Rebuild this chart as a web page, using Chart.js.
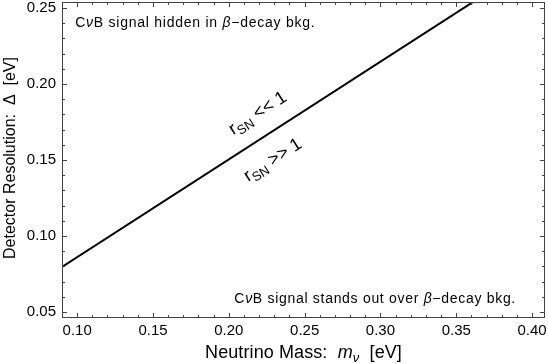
<!DOCTYPE html>
<html><head><meta charset="utf-8">
<script src="https://cdn.jsdelivr.net/npm/chart.js@4/dist/chart.umd.min.js"></script>
<style>html,body{margin:0;padding:0;background:#fff}#w{width:548px;height:364px;position:relative}</style>
</head><body><div id="w"><canvas id="c"></canvas></div>
<script>
// ---- data ----
const neutrinoMass = [0.09, 0.41];          // m_nu [eV]
const detectorResolution = [0.0796, 0.2855]; // Delta [eV] boundary line
const xTickValues = [0.10, 0.15, 0.20, 0.25, 0.30, 0.35, 0.40];
const xTickLabels = ['0.10','0.15','0.20','0.25','0.30','0.35','0.40'];
const yTickValues = [0.05, 0.10, 0.15, 0.20, 0.25];
const yTickLabels = ['0.05','0.10','0.15','0.20','0.25'];

const FONT = '"Liberation Sans", Arial, Helvetica, sans-serif';

function drawRich(ctx, parts, x, y, size, align, rot, baseline, spacing, subDrop) {
  ctx.save();
  ctx.translate(x, y);
  if (rot) ctx.rotate(rot);
  ctx.textBaseline = 'alphabetic';
  ctx.letterSpacing = (spacing || 0) + 'px';
  let total = 0;
  const meas = parts.map(p => {
    const s = p.sub ? size * 0.72 : size;
    ctx.font = (p.italic ? 'italic ' : '') + s + 'px ' + FONT;
    const w = ctx.measureText(p.t).width;
    total += w;
    return {s, w};
  });
  let cx = align === 'center' ? -total / 2 : 0;
  const dy = baseline === 'middle' ? size * 0.36 : 0;
  const sd = subDrop != null ? subDrop : 0.28;
  parts.forEach((p, i) => {
    ctx.font = (p.italic ? 'italic ' : '') + meas[i].s + 'px ' + FONT;
    ctx.fillStyle = '#000';
    ctx.fillText(p.t, cx, dy + (p.sub ? size * sd : 0));
    cx += meas[i].w;
  });
  ctx.restore();
}

const framePlugin = {
  id: 'frame',
  afterDraw(chart) {
    const {ctx, chartArea: a, scales: {x, y}} = chart;
    ctx.save();
    ctx.strokeStyle = '#444';
    ctx.lineWidth = 1;
    ctx.strokeRect(a.left + 0.5, a.top + 0.5, a.right - a.left - 1, a.bottom - a.top - 1);
    ctx.beginPath();
    for (let k = 9; k <= 41; k++) {
      const vv = k / 100;
      const L = (k % 5 === 0) ? 5 : 3;
      const px = Math.round(x.getPixelForValue(vv)) + 0.5;
      if (px < a.left + 1 || px > a.right - 1) continue;
      ctx.moveTo(px, a.bottom); ctx.lineTo(px, a.bottom - L);
      ctx.moveTo(px, a.top); ctx.lineTo(px, a.top + L);
    }
    for (let k = 4; k <= 26; k++) {
      const vv = k / 100;
      const L = (k % 5 === 0) ? 5 : 3;
      const py = Math.round(y.getPixelForValue(vv)) + 0.5;
      if (py < a.top + 1 || py > a.bottom - 1) continue;
      ctx.moveTo(a.left, py); ctx.lineTo(a.left + L, py);
      ctx.moveTo(a.right, py); ctx.lineTo(a.right - L, py);
    }
    ctx.stroke();
    ctx.restore();

    // axis titles
    drawRich(ctx, [{t:'Neutrino Mass:  '},{t:'m',italic:true},{t:'ν',italic:true,sub:true},{t:'  [eV]'}],
      (a.left + a.right) / 2, 358, 18, 'center', 0, null, 0.1, 0.2);
    drawRich(ctx, [{t:'Detector Resolution:  Δ  [eV]'}],
      15, (a.top + a.bottom) / 2 - 2, 16, 'center', -Math.PI / 2);

    // annotations
    drawRich(ctx, [{t:'C'},{t:'ν',italic:true},{t:'B signal hidden in '},{t:'β',italic:true},{t:'−decay bkg.'}],
      x.getPixelForValue(0.0987), y.getPixelForValue(0.2375), 14, 'left', 0, null, 0.75);
    drawRich(ctx, [{t:'C'},{t:'ν',italic:true},{t:'B signal stands out over '},{t:'β',italic:true},{t:'−decay bkg.'}],
      x.getPixelForValue(0.2965), y.getPixelForValue(0.0557), 14, 'center', 0, null, 0.7);
    const ang = Math.atan2(y.getPixelForValue(detectorResolution[1]) - y.getPixelForValue(detectorResolution[0]),
                           x.getPixelForValue(neutrinoMass[1]) - x.getPixelForValue(neutrinoMass[0]));
    drawRich(ctx, [{t:'r'},{t:'SN',sub:true},{t:' << 1'}],
      x.getPixelForValue(0.2186), y.getPixelForValue(0.1815), 18, 'center', ang, 'middle', 0, 0.22);
    drawRich(ctx, [{t:'r'},{t:'SN',sub:true},{t:' >> 1'}],
      x.getPixelForValue(0.2285), y.getPixelForValue(0.1507), 18, 'center', ang, 'middle', 0, 0.22);
  }
};

new Chart(document.getElementById('c'), {
  type: 'scatter',
  data: {
    datasets: [{
      data: neutrinoMass.map((m, i) => ({x: m, y: detectorResolution[i]})),
      showLine: true,
      borderColor: '#000',
      borderWidth: 2,
      pointRadius: 0,
      fill: false
    }]
  },
  options: {
    responsive: true,
    maintainAspectRatio: false,
    animation: false,
    layout: {padding: {top: 2, right: 3, left: 0, bottom: 0}},
    plugins: {legend: {display: false}, tooltip: {enabled: false}},
    scales: {
      x: {
        type: 'linear', min: 0.09, max: 0.4085,
        grid: {display: false, drawTicks: false},
        border: {display: false},
        afterBuildTicks: s => { s.ticks = xTickValues.map(v => ({value: v})); },
        afterFit: s => { s.height = 46; s.paddingLeft = 0; s.paddingRight = 0; },
        ticks: {padding: 4, color: '#000', font: {family: FONT, size: 15},
                callback: (v) => xTickLabels[xTickValues.findIndex(t => Math.abs(t - v) < 1e-9)] }
      },
      y: {
        type: 'linear', min: 0.046, max: 0.254,
        grid: {display: false, drawTicks: false},
        border: {display: false},
        afterBuildTicks: s => { s.ticks = yTickValues.map(v => ({value: v})); },
        afterFit: s => { s.width = 62; s.paddingTop = 0; s.paddingBottom = 0; },
        ticks: {padding: 6, color: '#000', font: {family: FONT, size: 15},
                callback: (v) => yTickLabels[yTickValues.findIndex(t => Math.abs(t - v) < 1e-9)] }
      }
    }
  },
  plugins: [framePlugin]
});
</script>
</body></html>
